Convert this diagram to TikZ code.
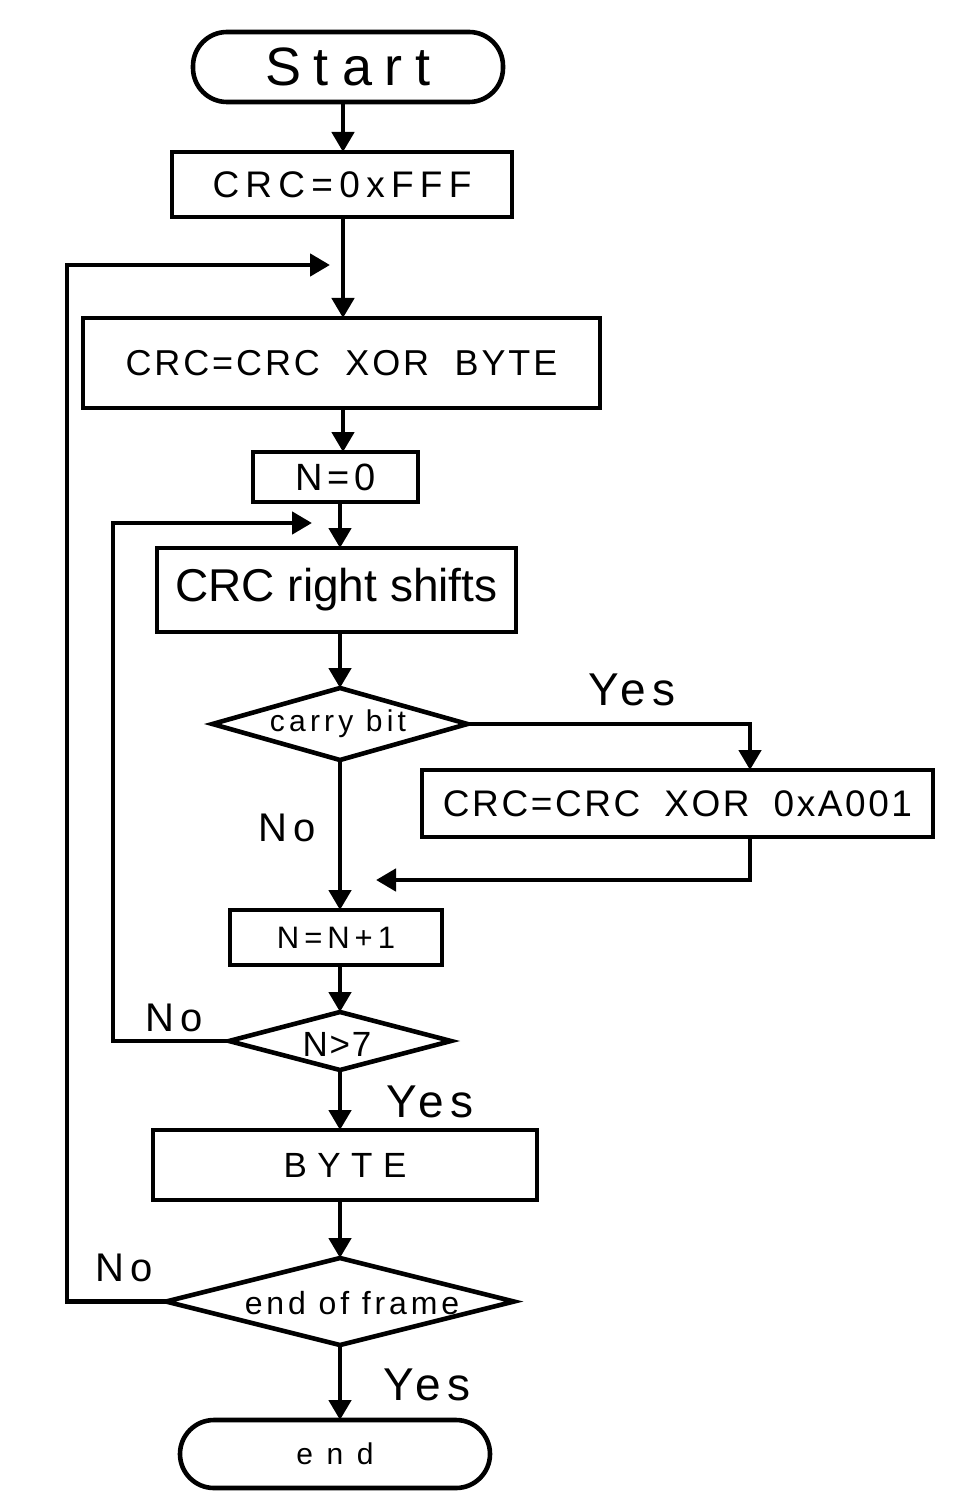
\documentclass[tikz,border=0pt]{standalone}
\usepackage{fontspec}
\setmainfont{Liberation Sans}
\usetikzlibrary{shapes.geometric,arrows.meta}
\newcommand{\fs}[2]{\fontsize{#1}{#1}\selectfont\addfontfeatures{LetterSpace=#2}}
\begin{document}
\begin{tikzpicture}[x=0.5pt,y=-0.5pt,
  every node/.style={inner sep=0pt,outer sep=0pt},
  box/.style={draw,line width=2.3pt,rectangle},
  pill/.style={draw,line width=2.3pt,rectangle,rounded corners=17pt},
  dia/.style={draw,line width=2.3pt,diamond},
  lbl/.style={anchor=center},
  arr/.style={line width=2.3pt,-{Triangle[length=10pt,width=11pt]}}]
\useasboundingbox (0,0) rectangle (956,1492);
% spine coordinates
\coordinate (sA) at (343,0);
\coordinate (sB) at (340,0);
\coordinate (sC) at (750,0);
\coordinate (L1) at (67,0);
\coordinate (L2) at (113,0);
% nodes
\node[pill,minimum width=155pt,minimum height=35pt] (start) at (348,67) {\fs{27pt}{24}Start};
\node[box,minimum width=170pt,minimum height=32.5pt] (init) at (342,184.5) {\fs{18.5pt}{17}CRC=0xFFF};
\node[box,minimum width=258.5pt,minimum height=45pt] (xor) at (341.5,363) {\fs{18pt}{8}CRC=CRC\hspace{0.35em} XOR\hspace{0.35em} BYTE};
\node[box,minimum width=82.5pt,minimum height=25pt] (n0) at (335.5,477) {\fs{19pt}{12}N=0};
\node[box,minimum width=179.5pt,minimum height=42pt] (shift) at (336.5,590) {\fs{23pt}{0}CRC right shifts};
\node[dia,minimum width=127.5pt,minimum height=36pt] (carry) at (340,724) {};
\node[lbl] (carryt) at (338,724) {\fs{15pt}{14}carry bit};
\node[box,minimum width=255.5pt,minimum height=33.5pt] (a001) at (677.5,803.5) {\fs{18.5pt}{7}CRC=CRC\hspace{0.3em} XOR\hspace{0.3em} 0xA001};
\node[box,minimum width=106pt,minimum height=27.5pt] (nn1) at (336,937.5) {\fs{15.5pt}{16}N=N+1};
\node[dia,minimum width=111pt,minimum height=29pt] (n7) at (340,1041) {};
\node[lbl] (n7t) at (337,1044) {\fs{17.5pt}{5}N>7};
\node[box,minimum width=192pt,minimum height=35pt] (byte) at (345,1165) {\fs{17.5pt}{30}BYTE};
\node[dia,minimum width=174pt,minimum height=43.5pt] (eof) at (340,1301.5) {};
\node[lbl] (eoft) at (352,1303) {\fs{16pt}{12}end of frame};
\node[pill,minimum width=155pt,minimum height=34pt] (end) at (335,1454) {\fs{15pt}{45}end};
% labels
\node[lbl] (y1) at (632,690) {\fs{23pt}{12}Yes};
\node[lbl] (no1) at (287,828) {\fs{20pt}{14}No};
\node[lbl] (no2) at (174,1018) {\fs{20pt}{14}No};
\node[lbl] (y2) at (430,1102) {\fs{23pt}{12}Yes};
\node[lbl] (no3) at (124,1268) {\fs{20pt}{14}No};
\node[lbl] (y3) at (427,1385) {\fs{23pt}{12}Yes};
% merge points
\coordinate (m1) at (330,265);
\coordinate (m2) at (312,523);
\coordinate (m3) at (376,880);
% connectors
\draw[arr] (start.south -| sA) -- (init.north -| sA);
\draw[arr] (init.south -| sA) -- (xor.north -| sA);
\draw[arr] (xor.south -| sA) -- (n0.north -| sA);
\draw[arr] (n0.south -| sB) -- (shift.north -| sB);
\draw[arr] (shift.south -| sB) -- (carry.north);
\draw[arr] (carry.east) -| (a001.north -| sC);
\draw[arr] (a001.south -| sC) |- (m3);
\draw[arr] (carry.south) -- (nn1.north -| sB);
\draw[arr] (nn1.south -| sB) -- (n7.north);
\draw[arr] (n7.south) -- (byte.north -| sB);
\draw[arr] (byte.south -| sB) -- (eof.north);
\draw[arr] (eof.south) -- (end.north -| sB);
\draw[arr] (n7.west) -- (n7.west -| L2) |- (m2);
\draw[arr] (eof.west) -- (eof.west -| L1) |- (m1);
\end{tikzpicture}
\end{document}
